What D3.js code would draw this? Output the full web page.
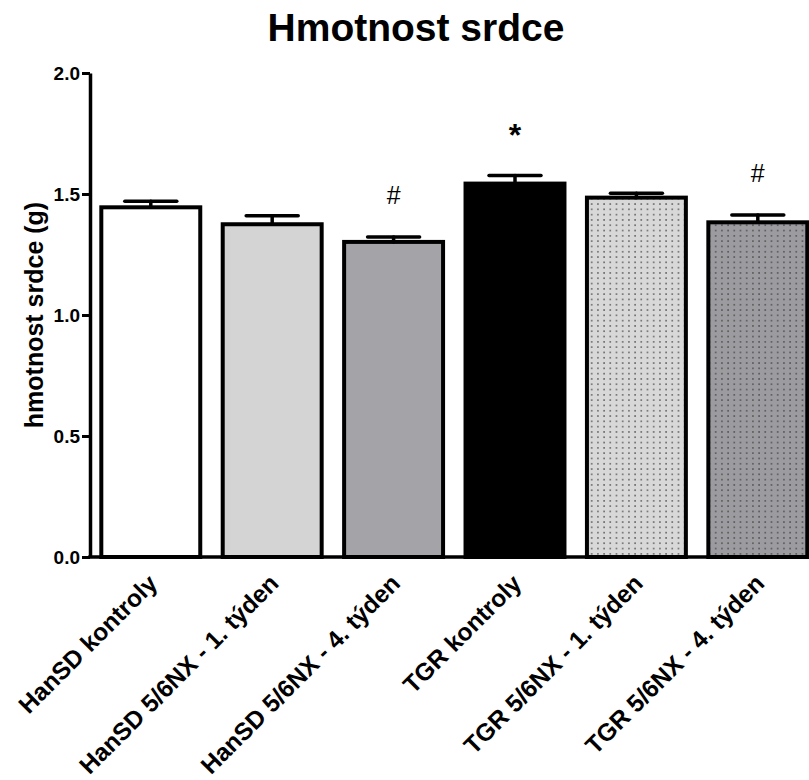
<!DOCTYPE html>
<html>
<head>
<meta charset="utf-8">
<script src="https://cdn.jsdelivr.net/npm/d3@7/dist/d3.min.js"></script>
<style>
  html, body { margin: 0; padding: 0; background: #fff; }
  svg { display: block; font-family: "Liberation Sans", Arial, sans-serif; }
</style>
</head>
<body>
<svg id="chart" width="809" height="780"></svg>
<script>
// ---- data ----
const categories = [
  "HanSD kontroly",
  "HanSD 5/6NX - 1. týden",
  "HanSD 5/6NX - 4. týden",
  "TGR kontroly",
  "TGR 5/6NX - 1. týden",
  "TGR 5/6NX - 4. týden"
];
const means = [1.445, 1.375, 1.302, 1.543, 1.485, 1.383];
const sems  = [0.025, 0.035, 0.020, 0.033, 0.018, 0.030];
const marks = ["", "", "#", "*", "", "#"];
const yTicks = [0, 0.5, 1.0, 1.5, 2.0];
const title = "Hmotnost srdce";
const yLabel = "hmotnost srdce (g)";

// ---- style ----
const fills = ["#ffffff", "#d4d4d4", "#a4a4a8", "#000000", "url(#dotsLight)", "url(#dotsDark)"];

const svg = d3.select("#chart");
const defs = svg.append("defs");
function dotPattern(id, bg) {
  const p = defs.append("pattern").attr("id", id)
    .attr("patternUnits", "userSpaceOnUse").attr("width", 6.2).attr("height", 5.3);
  p.append("rect").attr("width", 6.2).attr("height", 5.3).attr("fill", bg);
  p.append("rect").attr("x", 2).attr("y", 2).attr("width", 1.4).attr("height", 1.3).attr("fill", "#383838");
}
dotPattern("dotsLight", "#d8d8d8");
dotPattern("dotsDark", "#9c9ca0");

const y = d3.scaleLinear().domain([0, 2]).range([557, 73]);
const x = d3.scaleBand().domain(categories).range([91.6, 817]).paddingInner(0.185).paddingOuter(0.08);

// title
svg.append("text").attr("x", 416).attr("y", 41).attr("text-anchor", "middle")
  .attr("font-size", 39).attr("font-weight", "bold").text(title);

// y label
svg.append("text").attr("transform", "translate(43,315) rotate(-90)")
  .attr("text-anchor", "middle").attr("font-size", 25).attr("font-weight", "bold").text(yLabel);

// y axis
const yAxis = d3.axisLeft(y).tickValues(yTicks).tickFormat(d3.format(".1f"))
  .tickSize(8).tickSizeOuter(0).tickPadding(2);
const gy = svg.append("g").attr("transform", "translate(90,0)").call(yAxis);
gy.select(".domain").attr("stroke", "#000").attr("stroke-width", 3.5);
gy.selectAll(".tick line").attr("stroke", "#000").attr("stroke-width", 3);
gy.selectAll(".tick text").attr("font-size", 19).attr("font-weight", "bold")
  .attr("font-family", "Liberation Sans, Arial, sans-serif").attr("fill", "#000");

// x axis line
svg.append("line").attr("x1", 88.3).attr("x2", 809).attr("y1", y(0)).attr("y2", y(0))
  .attr("stroke", "#000").attr("stroke-width", 3.5);

// bars
svg.append("g").selectAll("rect").data(categories).join("rect")
  .attr("x", d => x(d))
  .attr("y", (d, i) => y(means[i]))
  .attr("width", x.bandwidth())
  .attr("height", (d, i) => y(0) - y(means[i]))
  .attr("fill", (d, i) => fills[i])
  .attr("stroke", "#000").attr("stroke-width", 4);

// error bars
const eg = svg.append("g").attr("stroke", "#000").attr("stroke-width", 3.5).attr("stroke-linecap", "round");
categories.forEach((c, i) => {
  const cx = x(c) + x.bandwidth() / 2;
  const top = y(means[i] + sems[i]);
  eg.append("line").attr("x1", cx).attr("x2", cx).attr("y1", y(means[i])).attr("y2", top);
  eg.append("line").attr("x1", cx - 26).attr("x2", cx + 26).attr("y1", top).attr("y2", top);
});

// significance marks
categories.forEach((c, i) => {
  if (!marks[i]) return;
  const cx = x(c) + x.bandwidth() / 2;
  const top = y(means[i] + sems[i]);
  const isStar = marks[i] === "*";
  svg.append("text").attr("x", cx).attr("y", top - (isStar ? 30 : 33))
    .attr("text-anchor", "middle")
    .attr("font-size", isStar ? 32 : 25)
    .attr("font-weight", isStar ? "bold" : "normal")
    .text(marks[i]);
});

// x labels
svg.append("g").selectAll("text").data(categories).join("text")
  .attr("transform", d => `translate(${x(d) + x.bandwidth() / 2 + 8},585) rotate(-45)`)
  .attr("text-anchor", "end").attr("font-size", 24.5).attr("font-weight", "bold")
  .text(d => d);
</script>
</body>
</html>
